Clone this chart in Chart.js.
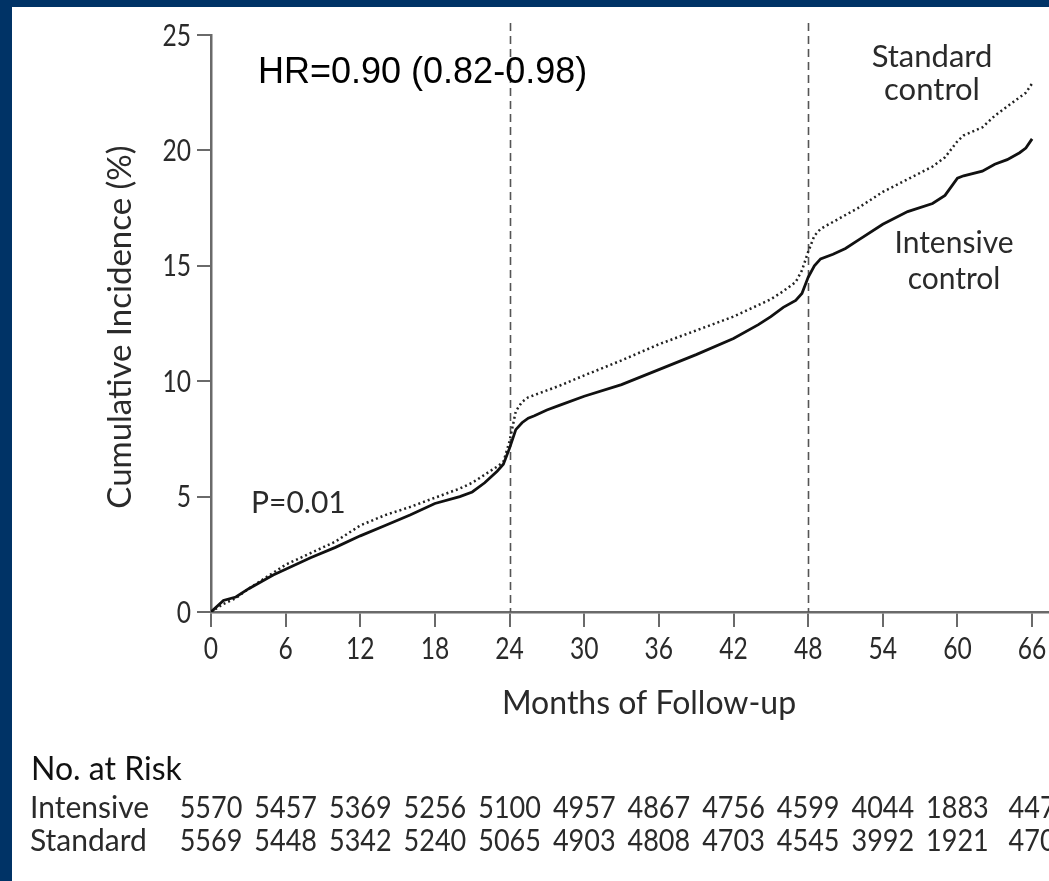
<!DOCTYPE html>
<html>
<head>
<meta charset="utf-8">
<script src="https://cdn.jsdelivr.net/npm/chart.js@4.4.0/dist/chart.umd.min.js"></script>
<style>
  html, body { margin: 0; padding: 0; background: #003366; overflow: hidden; }
  #paper { position: absolute; left: 12px; top: 7px; right: 0; bottom: 0; background: #fff; }
  #km { position: absolute; left: 0; top: 0; }
</style>
</head>
<body>
<div id="paper"></div>
<canvas id="km" width="1049" height="881"></canvas>
<script>
const months = [0, 1, 2, 3, 4, 5, 6, 8, 10, 12, 14, 16, 18, 20, 21, 22, 23, 23.5, 24, 24.5, 25, 25.5, 26, 27, 28, 30, 33, 36, 39, 42, 44, 45, 46, 47, 47.5, 48, 48.5, 49, 50, 51, 52, 54, 56, 58, 59, 60, 60.5, 62, 63, 64, 65, 65.5, 66];

// Cumulative incidence (%)
const intensive = [0, 0.5, 0.65, 1.0, 1.3, 1.6, 1.85, 2.35, 2.8, 3.3, 3.75, 4.2, 4.7, 5.0, 5.2, 5.6, 6.1, 6.4, 7.1, 7.9, 8.2, 8.4, 8.5, 8.75, 8.95, 9.35, 9.85, 10.5, 11.15, 11.85, 12.45, 12.8, 13.2, 13.5, 13.8, 14.5, 15.0, 15.3, 15.5, 15.75, 16.1, 16.8, 17.35, 17.7, 18.05, 18.8, 18.9, 19.1, 19.4, 19.6, 19.9, 20.1, 20.5];
const standard = [0, 0.35, 0.6, 1.0, 1.35, 1.7, 2.05, 2.55, 3.05, 3.75, 4.2, 4.55, 4.95, 5.35, 5.6, 5.95, 6.3, 6.5, 7.4, 8.7, 9.1, 9.3, 9.4, 9.6, 9.8, 10.25, 10.9, 11.6, 12.2, 12.8, 13.3, 13.55, 13.9, 14.3, 14.8, 15.6, 16.3, 16.6, 16.9, 17.2, 17.5, 18.2, 18.75, 19.3, 19.7, 20.4, 20.65, 21.0, 21.5, 21.9, 22.3, 22.5, 22.9];

// Number at risk, one value per x tick
const riskMonths = [0, 6, 12, 18, 24, 30, 36, 42, 48, 54, 60, 66];
const riskIntensive = [5570, 5457, 5369, 5256, 5100, 4957, 4867, 4756, 4599, 4044, 1883, 447];
const riskStandard = [5569, 5448, 5342, 5240, 5065, 4903, 4808, 4703, 4545, 3992, 1921, 470];

// Vertical reference lines
const landmarks = [24, 48];

const humanist = "Lato, 'Open Sans', sans-serif";
const ink = '#2a2a2a';

function toPoints(ys) {
  return months.map((m, i) => ({ x: m, y: ys[i] }));
}

// digits in the original are condensed, so squeeze Lato sideways
function narrowText(ctx, text, x, y, align, squeeze) {
  ctx.save();
  ctx.translate(x, y);
  ctx.scale(squeeze, 1);
  ctx.textAlign = align;
  ctx.fillText(text, 0, 0);
  ctx.restore();
}

const extras = {
  id: 'extras',
  beforeDatasetsDraw(chart) {
    const ctx = chart.ctx;
    const xs = chart.scales.x;
    const ys = chart.scales.y;
    ctx.save();
    ctx.strokeStyle = '#555';
    ctx.lineWidth = 1.6;
    ctx.setLineDash([8, 5]);
    landmarks.forEach(m => {
      const px = Math.round(xs.getPixelForValue(m)) + 0.5;
      ctx.beginPath();
      ctx.moveTo(px, ys.getPixelForValue(25) - 12);
      ctx.lineTo(px, ys.getPixelForValue(0));
      ctx.stroke();
    });
    ctx.restore();
  },
  afterDraw(chart) {
    const ctx = chart.ctx;
    const xs = chart.scales.x;
    const ys = chart.scales.y;
    ctx.save();

    // tick labels
    ctx.fillStyle = ink;
    ctx.font = '30px ' + humanist;
    ctx.textBaseline = 'middle';
    ys.ticks.forEach(t => {
      narrowText(ctx, String(t.value), 191, ys.getPixelForValue(t.value) + 1, 'right', 0.82);
    });
    ctx.textBaseline = 'alphabetic';
    xs.ticks.forEach(t => {
      narrowText(ctx, String(t.value), xs.getPixelForValue(t.value), 659, 'center', 0.82);
    });

    ctx.fillStyle = '#000';
    ctx.font = "36px 'Liberation Sans', Arial, sans-serif";
    ctx.textAlign = 'left';
    ctx.fillText('HR=0.90 (0.82-0.98)', 258, 83);

    ctx.fillStyle = ink;
    ctx.font = '30px ' + humanist;
    ctx.fillText('P=0.01', 251, 513);

    ctx.textAlign = 'center';
    ctx.font = '31px ' + humanist;
    ctx.fillText('Standard', 932, 67);
    ctx.fillText('control', 932, 100);
    ctx.font = '30px ' + humanist;
    ctx.fillText('Intensive', 954, 253);
    ctx.fillText('control', 954, 289);

    // axis titles
    ctx.font = '32px ' + humanist;
    ctx.fillText('Months of Follow-up', 649, 714);
    ctx.save();
    ctx.translate(131, 327);
    ctx.rotate(-Math.PI / 2);
    ctx.font = '33px ' + humanist;
    ctx.fillText('Cumulative Incidence (%)', 0, 0);
    ctx.restore();

    // number at risk table
    ctx.textAlign = 'left';
    ctx.fillStyle = '#111';
    ctx.font = '32px ' + humanist;
    ctx.fillText('No. at Risk', 31, 780);
    ctx.fillStyle = ink;
    ctx.font = '30px ' + humanist;
    ctx.fillText('Intensive', 30, 818);
    ctx.fillText('Standard', 30, 851);
    riskMonths.forEach((m, i) => {
      const px = xs.getPixelForValue(m);
      narrowText(ctx, String(riskIntensive[i]), px, 818, 'center', 0.9);
      narrowText(ctx, String(riskStandard[i]), px, 851, 'center', 0.9);
    });
    ctx.restore();
  }
};

new Chart(document.getElementById('km'), {
  type: 'line',
  data: {
    datasets: [
      {
        label: 'Intensive control',
        data: toPoints(intensive),
        borderColor: '#111',
        borderWidth: 2.8,
        pointRadius: 0,
        tension: 0
      },
      {
        label: 'Standard control',
        data: toPoints(standard),
        borderColor: '#222',
        borderWidth: 2.5,
        borderDash: [2, 3],
        pointRadius: 0,
        tension: 0
      }
    ]
  },
  options: {
    responsive: false,
    animation: false,
    layout: { padding: { top: 35, left: 0, right: 0, bottom: 0 }, autoPadding: false },
    plugins: { legend: { display: false }, tooltip: { enabled: false } },
    scales: {
      x: {
        type: 'linear',
        min: 0,
        max: 67.36,
        afterFit(s) { s.height = 881 - 612; },
        border: { display: true, color: '#6a6a6a', width: 2.5 },
        grid: { drawOnChartArea: false, drawTicks: true, tickLength: 15, color: '#6a6a6a', lineWidth: 2 },
        ticks: { stepSize: 6, includeBounds: false, autoSkip: false, maxRotation: 0, display: false }
      },
      y: {
        min: 0,
        max: 25,
        afterFit(s) { s.width = 211; },
        border: { display: true, color: '#6a6a6a', width: 2.5 },
        grid: { drawOnChartArea: false, drawTicks: true, tickLength: 14, color: '#6a6a6a', lineWidth: 2 },
        ticks: { stepSize: 5, display: false }
      }
    }
  },
  plugins: [extras]
});
</script>
</body>
</html>
